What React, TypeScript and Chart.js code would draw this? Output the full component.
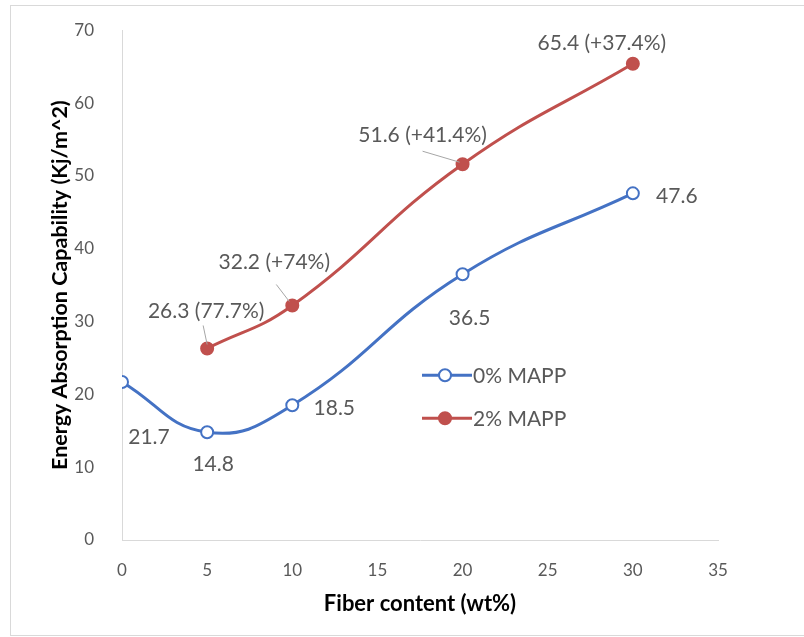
import React, { useEffect, useRef } from "react";
import { Chart, registerables } from "chart.js";

Chart.register(...registerables);

// ---- data ----
const fiberContent0 = [0, 5, 10, 20, 30];
const mapp0Values = [21.7, 14.8, 18.5, 36.5, 47.6];
const mapp0Labels = ["21.7", "14.8", "18.5", "36.5", "47.6"];

const fiberContent2 = [5, 10, 20, 30];
const mapp2Values = [26.3, 32.2, 51.6, 65.4];
const mapp2Labels = ["26.3 (77.7%)", "32.2 (+74%)", "51.6 (+41.4%)", "65.4 (+37.4%)"];

const seriesNames = ["0% MAPP", "2% MAPP"];
const xAxisTitle = "Fiber content (wt%)";
const yAxisTitle = "Energy Absorption Capability (Kj/m^2)";

// ---- styles / label placement (offsets from the data point, in px) ----
const BLUE = "#4472C4";
const RED = "#C0504D";
const TEXT = "#595959";
const FONT = "Lato, 'Open Sans', sans-serif";

const label0Offsets = [
  [27, 55],
  [6, 32],
  [42, 3],
  [7, 44],
  [44, 3],
];
const label2Offsets = [
  [-1, -37],
  [-18, -43],
  [-40, -29],
  [-31, -20],
];
// leader lines: [x1,y1,x2,y2] relative to point, or null
const label2Leaders: (number[] | null)[] = [
  [-4, -23, 0, -4],
  [-16, -21, -3, -4],
  [-40, -13, -3, -2],
  null,
];

const labelPlugin = {
  id: "dataLabels",
  afterDatasetsDraw(chart: any) {
    const ctx = chart.ctx;
    ctx.save();
    ctx.font = `21px ${FONT}`;
    ctx.fillStyle = TEXT;
    ctx.textAlign = "center";
    ctx.textBaseline = "middle";
    const sets = [
      { idx: 0, labels: mapp0Labels, offs: label0Offsets, leaders: [] as any[] },
      { idx: 1, labels: mapp2Labels, offs: label2Offsets, leaders: label2Leaders },
    ];
    sets.forEach((s) => {
      const meta = chart.getDatasetMeta(s.idx);
      meta.data.forEach((pt: any, i: number) => {
        const ld = s.leaders[i];
        if (ld) {
          ctx.strokeStyle = "#a6a6a6";
          ctx.lineWidth = 1;
          ctx.beginPath();
          ctx.moveTo(pt.x + ld[0], pt.y + ld[1]);
          ctx.lineTo(pt.x + ld[2], pt.y + ld[3]);
          ctx.stroke();
        }
        ctx.fillText(s.labels[i], pt.x + s.offs[i][0], pt.y + s.offs[i][1]);
      });
    });
    ctx.restore();
  },
};

const legendPlugin = {
  id: "customLegend",
  afterDraw(chart: any) {
    const ctx = chart.ctx;
    const area = chart.chartArea;
    const x0 = area.left + 300;
    const rows = [area.top + 345, area.top + 388];
    ctx.save();
    chart.data.datasets.forEach((ds: any, i: number) => {
      const y = rows[i];
      ctx.strokeStyle = ds.borderColor;
      ctx.lineWidth = 3;
      ctx.beginPath();
      ctx.moveTo(x0, y);
      ctx.lineTo(x0 + 50, y);
      ctx.stroke();
      ctx.beginPath();
      ctx.arc(x0 + 23, y, 6, 0, Math.PI * 2);
      ctx.fillStyle = ds.pointBackgroundColor;
      ctx.fill();
      ctx.lineWidth = 2;
      ctx.strokeStyle = ds.pointBorderColor;
      ctx.stroke();
      ctx.fillStyle = TEXT;
      ctx.font = `21px ${FONT}`;
      ctx.textAlign = "left";
      ctx.textBaseline = "middle";
      ctx.fillText(ds.label, x0 + 51, y + 1);
    });
    ctx.restore();
  },
};

export default function App() {
  const ref = useRef<HTMLCanvasElement | null>(null);
  useEffect(() => {
    if (!ref.current) return;
    const chart = new Chart(ref.current, {
      type: "line",
      data: {
        datasets: [
          {
            label: seriesNames[0],
            data: fiberContent0.map((x, i) => ({ x, y: mapp0Values[i] })),
            borderColor: BLUE,
            backgroundColor: BLUE,
            borderWidth: 3,
            tension: 0.45,
            pointRadius: 6,
            pointBorderWidth: 2,
            pointBackgroundColor: "#ffffff",
            pointBorderColor: BLUE,
          },
          {
            label: seriesNames[1],
            data: fiberContent2.map((x, i) => ({ x, y: mapp2Values[i] })),
            borderColor: RED,
            backgroundColor: RED,
            borderWidth: 3,
            tension: 0.45,
            pointRadius: 6,
            pointBorderWidth: 2,
            pointBackgroundColor: RED,
            pointBorderColor: RED,
          },
        ],
      },
      options: {
        responsive: false,
        animation: false,
        layout: { padding: { top: 30, right: 86, left: 0, bottom: 0 } },
        plugins: { legend: { display: false }, tooltip: { enabled: false } },
        scales: {
          x: {
            type: "linear",
            min: 0,
            max: 35,
            grid: { display: false },
            border: { display: true, color: "#d9d9d9", width: 1 },
            ticks: { stepSize: 5, color: TEXT, padding: 12, font: { family: FONT, size: 17 } },
            title: {
              display: true,
              text: xAxisTitle,
              color: "#000",
              font: { family: FONT, size: 22, weight: "bold" },
              padding: { top: 0, bottom: 20 },
            },
            afterFit(scale: any) {
              scale.height = 97;
            },
          },
          y: {
            min: 0,
            max: 70,
            grid: { display: false },
            border: { display: true, color: "#d9d9d9", width: 1 },
            ticks: { stepSize: 10, color: TEXT, padding: 20, font: { family: FONT, size: 17 } },
            title: {
              display: true,
              text: yAxisTitle,
              color: "#000",
              font: { family: FONT, size: 21.5, weight: "bold" },
              padding: { top: 47, bottom: 0 },
            },
            afterFit(scale: any) {
              scale.width = 122;
            },
          },
        },
      },
      plugins: [labelPlugin, legendPlugin],
    } as any);
    return () => chart.destroy();
  }, []);

  return (
    <div
      style={{
        position: "fixed",
        left: 0,
        top: 0,
        width: 804,
        height: 637,
        overflow: "hidden",
        background: "#fff",
      }}
    >
      <canvas ref={ref} width={804} height={637} style={{ display: "block" }} />
      <div
        style={{
          position: "absolute",
          left: 10,
          top: 5,
          width: 820,
          height: 629,
          border: "1px solid #d9d9d9",
          pointerEvents: "none",
        }}
      />
    </div>
  );
}
